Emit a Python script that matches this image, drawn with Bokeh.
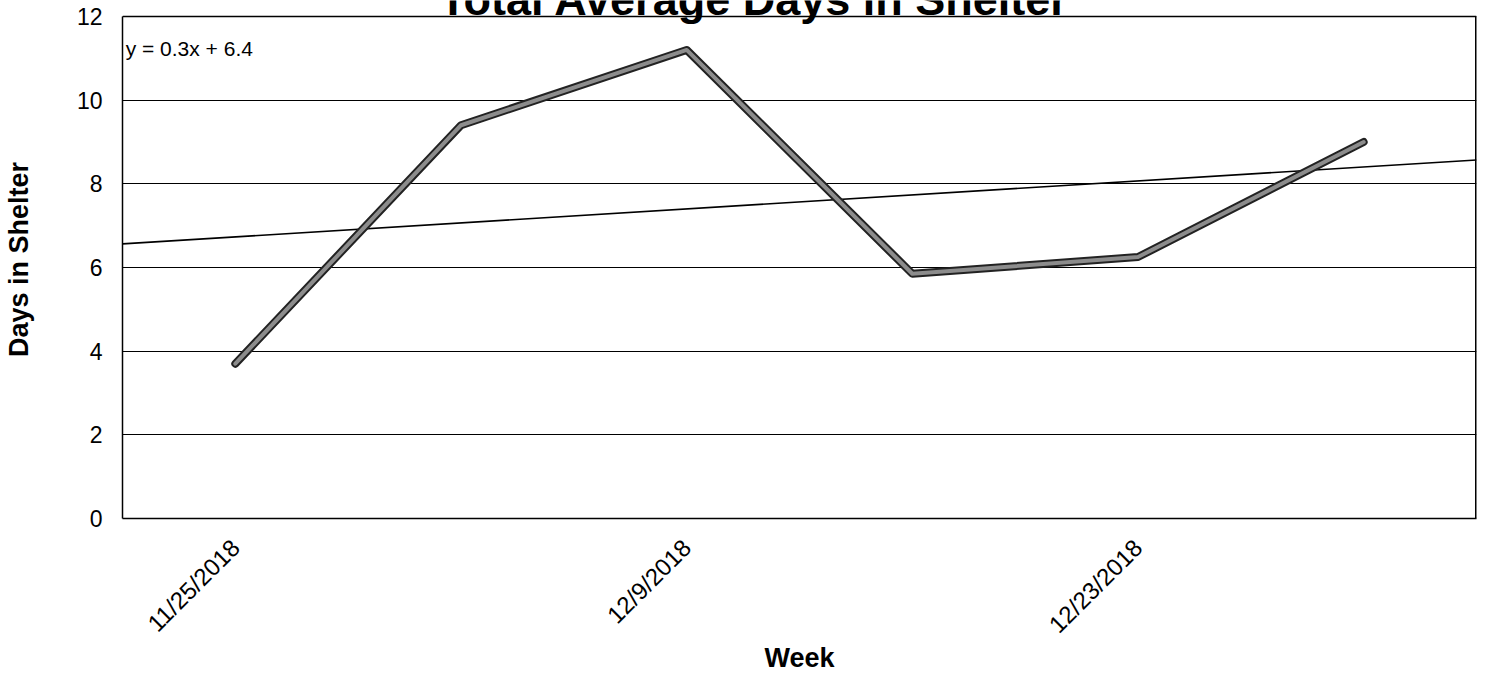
import numpy as np
from bokeh.plotting import figure
from bokeh.models import FixedTicker, Label, Range1d, Span
from bokeh.embed import file_html
from bokeh.resources import INLINE

weeks = ["11/25/2018", "12/2/2018", "12/9/2018", "12/16/2018", "12/23/2018", "12/30/2018"]
week_idx = [1, 2, 3, 4, 5, 6]
days = [3.7, 9.4, 11.2, 5.85, 6.25, 9.0]
shown_labels = ["11/25/2018", "12/9/2018", "12/23/2018"]
y_ticks = [0, 2, 4, 6, 8, 10, 12]

FONT = "Liberation Sans"

# frame reaches the canvas top so the (cut-off) title can sit above the y=12 border
FRAME_H = 519
TOP_GAP = 16
y_max = 12 * FRAME_H / (FRAME_H - TOP_GAP)
px = (FRAME_H - TOP_GAP) / 12.0

p = figure(width=1478, height=675, output_backend="svg", toolbar_location=None,
           x_range=Range1d(0.5, 6.5), y_range=Range1d(0, y_max),
           min_border_left=118, min_border_right=2, min_border_top=0, min_border_bottom=156)

p.outline_line_color = None
p.background_fill_color = "white"
p.border_fill_color = "white"

# grid
p.xgrid.grid_line_color = None
p.ygrid.ticker = FixedTicker(ticks=y_ticks)
p.ygrid.grid_line_color = "black"
p.ygrid.grid_line_width = 1

# plot-area border (top and right)
p.add_layout(Span(location=12, dimension="width", line_color="black", line_width=1.5))
p.segment(x0=[6.5], y0=[0], x1=[6.5], y1=[12], line_color="black", line_width=3)

# axes
p.yaxis.ticker = FixedTicker(ticks=y_ticks)
p.yaxis.bounds = (0, 12)
p.yaxis.major_tick_line_color = None
p.yaxis.minor_tick_line_color = None
p.yaxis.axis_line_color = "black"
p.yaxis.axis_line_width = 1.5
p.yaxis.major_label_text_font = FONT
p.yaxis.major_label_text_font_size = "23px"
p.yaxis.major_label_text_color = "black"
p.yaxis.major_label_standoff = 14
p.yaxis.axis_label = "Days in Shelter"
p.yaxis.axis_label_text_font = FONT
p.yaxis.axis_label_text_font_size = "27px"
p.yaxis.axis_label_text_font_style = "bold"
p.yaxis.axis_label_text_color = "black"
p.yaxis.axis_label_standoff = 40

ticks = [week_idx[weeks.index(s)] for s in shown_labels]
p.xaxis.ticker = FixedTicker(ticks=ticks)
p.xaxis.major_label_overrides = {t: s for t, s in zip(ticks, shown_labels)}
p.xaxis.major_tick_line_color = None
p.xaxis.minor_tick_line_color = None
p.xaxis.axis_line_color = "black"
p.xaxis.axis_line_width = 1.5
p.xaxis.major_label_orientation = np.pi / 4
p.xaxis.major_label_text_font = FONT
p.xaxis.major_label_text_font_size = "24px"
p.xaxis.major_label_text_color = "black"
p.xaxis.major_label_standoff = 19
p.xaxis.axis_label = "Week"
p.xaxis.axis_label_text_font = FONT
p.xaxis.axis_label_text_font_size = "27px"
p.xaxis.axis_label_text_font_style = "bold"
p.xaxis.axis_label_text_color = "black"
p.xaxis.axis_label_standoff = -8

# linear trend from data
slope, intercept = np.polyfit(week_idx, days, 1)
tx = [0.5, 6.5]
ty = [slope * t + intercept for t in tx]
p.line(tx, ty, line_color="black", line_width=1.6)

# data line (outlined grey)
p.line(week_idx, days, line_color="#222222", line_width=8, line_join="round", line_cap="round")
p.line(week_idx, days, line_color="#8c8c8c", line_width=4, line_join="round", line_cap="round")

eq = Label(x=0.514, y=12 - 32 / px, text="y = %.1fx + %.1f" % (slope, intercept),
           text_font=FONT, text_font_size="21px", text_color="black",
           text_baseline="middle", text_align="left")
p.add_layout(eq)

title = Label(x=3.30, y=12 + 16.6 / px, text="Total Average Days in Shelter",
              text_font=FONT, text_font_size="45px", text_font_style="bold",
              text_color="black", text_align="center", text_baseline="middle")
p.add_layout(title)

open("out.html", "w").write(file_html(p, INLINE))
